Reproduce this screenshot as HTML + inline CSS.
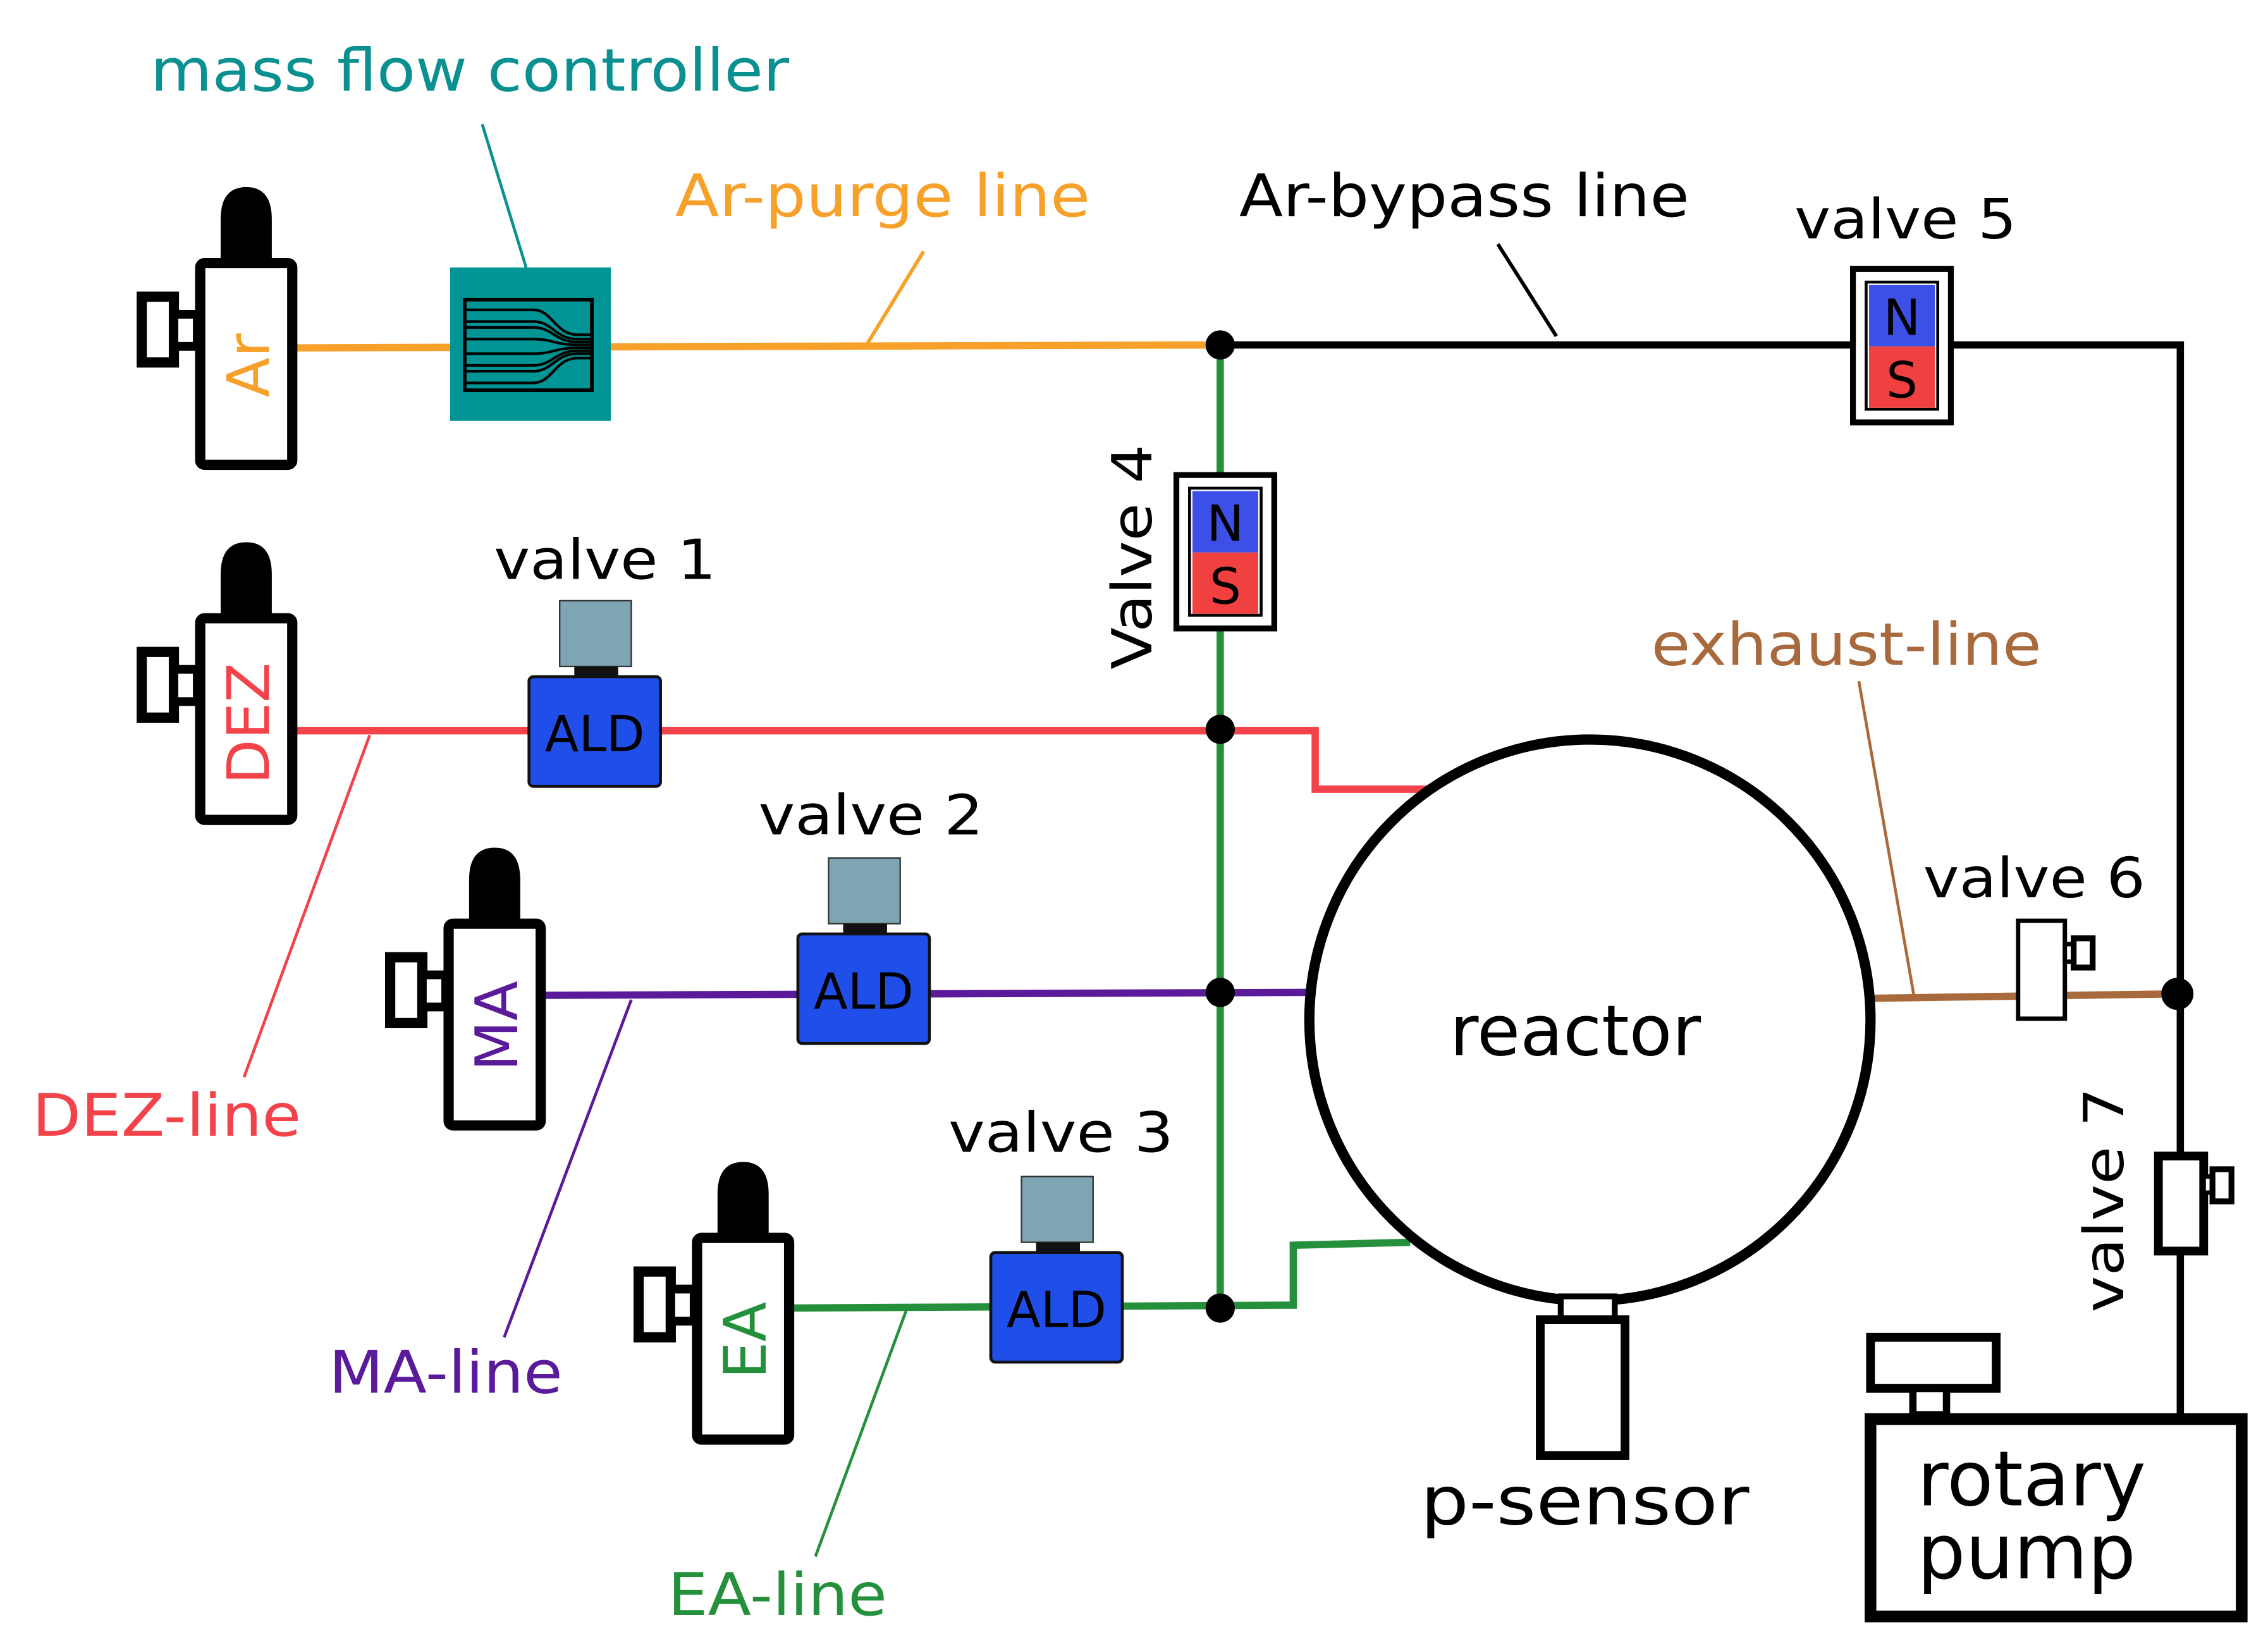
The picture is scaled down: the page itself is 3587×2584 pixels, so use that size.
<!DOCTYPE html>
<html><head><meta charset="utf-8"><style>html,body{margin:0;padding:0;background:#fff}svg{display:block}</style></head>
<body>
<svg xmlns="http://www.w3.org/2000/svg" width="3587" height="2584" viewBox="0 0 1552 1118" font-family="'DejaVu Sans','Liberation Sans',sans-serif">
<rect width="1552" height="1118" fill="#fff"/>
<defs>
<g id="cyl">
  <path d="M1,55 L1,22 Q1,0 18.5,0 Q36,0 36,22 L36,55 Z" fill="#000"/>
  <rect x="-13" y="52" width="63" height="138" rx="3" fill="#fff" stroke="#000" stroke-width="7"/>
  <rect x="-53" y="75" width="22" height="45" fill="#fff" stroke="#000" stroke-width="7"/>
  <rect x="-31" y="87" width="16" height="22" fill="#fff" stroke="#000" stroke-width="6"/>
</g>
<g id="ald">
  <rect x="21" y="0" width="49" height="45" fill="#7ea6b2" stroke="#333" stroke-width="1"/>
  <rect x="31" y="45" width="30" height="7" fill="#111"/>
  <rect x="0" y="52" width="90" height="75" rx="3" fill="#1f4fe8" stroke="#111" stroke-width="2"/>
  <text x="45" y="103" font-size="34" text-anchor="middle" fill="#000">ALD</text>
</g>
<g id="ns">
  <rect x="0" y="0" width="67" height="105" fill="#fff" stroke="#000" stroke-width="4"/>
  <rect x="9" y="9" width="49" height="87" fill="#fff" stroke="#000" stroke-width="2"/>
  <rect x="11" y="11" width="45" height="42" fill="#3c4fe6"/>
  <rect x="11" y="53" width="45" height="42" fill="#f04040"/>
  <text x="33.5" y="45" font-size="34" text-anchor="middle">N</text>
  <text x="33.5" y="88" font-size="34" text-anchor="middle">S</text>
</g>
</defs>

<line x1="202" y1="238" x2="835" y2="236" stroke="#f7a12a" stroke-width="5"/>
<polyline points="835,236 1492,236 1492,968" fill="none" stroke="#000" stroke-width="5"/>
<line x1="835" y1="236" x2="835" y2="895" stroke="#24903c" stroke-width="5"/>
<polyline points="202,500 835,500 900,500 900,540 978,540" fill="none" stroke="#f2424a" stroke-width="5"/>
<line x1="372" y1="681" x2="895" y2="679" stroke="#5a1a9a" stroke-width="5"/>
<polyline points="541,895 885,893 885,852 965,850" fill="none" stroke="#24903c" stroke-width="5"/>
<line x1="1282" y1="683" x2="1490" y2="680" stroke="#a86a3c" stroke-width="5"/>

<line x1="330" y1="85" x2="360" y2="183" stroke="#0a9090" stroke-width="2"/>
<line x1="632" y1="172" x2="593" y2="236" stroke="#f7a12a" stroke-width="2.5"/>
<line x1="1025" y1="167" x2="1065" y2="230" stroke="#000" stroke-width="2.5"/>
<line x1="167" y1="737" x2="253" y2="503" stroke="#f2424a" stroke-width="2"/>
<line x1="345" y1="915" x2="432" y2="684" stroke="#5a1a9a" stroke-width="2"/>
<line x1="558" y1="1065" x2="620" y2="897" stroke="#24903c" stroke-width="2"/>
<line x1="1272" y1="466" x2="1310" y2="683" stroke="#a86a3c" stroke-width="2"/>

<use href="#cyl" x="150" y="128"/>
<use href="#cyl" x="150" y="371"/>
<use href="#cyl" x="320" y="580"/>
<use href="#cyl" x="490" y="795"/>
<text transform="translate(184,250) rotate(-90)" font-size="40" fill="#f7a12a" text-anchor="middle">Ar</text>
<text transform="translate(184,495) rotate(-90)" font-size="40" fill="#f2424a" text-anchor="middle">DEZ</text>
<text transform="translate(354,702) rotate(-90)" font-size="40" fill="#5a1a9a" text-anchor="middle">MA</text>
<text transform="translate(524,917) rotate(-90)" font-size="40" fill="#24903c" text-anchor="middle">EA</text>

<rect x="308" y="183" width="110" height="105" fill="#009494"/>
<rect x="318" y="205" width="87" height="62" fill="none" stroke="#000" stroke-width="2.5"/>
<g fill="none" stroke="#000" stroke-width="1.8">
<path d="M319,212 H365 C378,212 380,229 395,229 H405"/>
<path d="M319,220 H365 C378,220 380,232 395,232 H405"/>
<path d="M319,224 H365 C378,224 380,234 395,234 H405"/>
<path d="M319,232 H365 C378,232 380,236 395,236 H405"/>
<path d="M319,242 H365 C378,242 380,238 395,238 H405"/>
<path d="M319,250 H365 C378,250 380,240 395,240 H405"/>
<path d="M319,254 H365 C378,254 380,242 395,242 H405"/>
<path d="M319,262 H365 C378,262 380,245 395,245 H405"/>
</g>

<use href="#ald" x="362" y="411"/>
<use href="#ald" x="546" y="587"/>
<use href="#ald" x="678" y="805"/>

<use href="#ns" x="1268" y="184"/>
<use href="#ns" x="805" y="325"/>

<circle cx="835" cy="236" r="10"/>
<circle cx="835" cy="499" r="10"/>
<circle cx="835" cy="679" r="10"/>
<circle cx="835" cy="895" r="10"/>
<circle cx="1490" cy="680" r="11"/>

<circle cx="1088" cy="698" r="192" fill="#fff" stroke="#000" stroke-width="7"/>
<text x="1078" y="722" font-size="48" text-anchor="middle">reactor</text>
<rect x="1068" y="887" width="37" height="16" fill="#fff" stroke="#000" stroke-width="4"/>
<rect x="1054" y="903" width="58" height="93" fill="#fff" stroke="#000" stroke-width="6"/>

<rect x="1381" y="630" width="32" height="67" fill="#fff" stroke="#000" stroke-width="3"/>
<rect x="1413" y="646" width="6" height="12" fill="#fff" stroke="#000" stroke-width="3"/>
<rect x="1419" y="642" width="13" height="20" fill="#fff" stroke="#000" stroke-width="4"/>
<rect x="1477" y="791" width="31" height="65" fill="#fff" stroke="#000" stroke-width="6"/>
<rect x="1508" y="805" width="6" height="11" fill="#fff" stroke="#000" stroke-width="3"/>
<rect x="1514" y="800" width="13" height="22" fill="#fff" stroke="#000" stroke-width="4"/>

<rect x="1280" y="915" width="86" height="35" fill="#fff" stroke="#000" stroke-width="6"/>
<rect x="1309" y="950" width="23" height="18" fill="#fff" stroke="#000" stroke-width="5"/>
<rect x="1280" y="971" width="254" height="135" fill="#fff" stroke="#000" stroke-width="8"/>
<text x="1312" y="1030" font-size="52">rotary</text>
<text x="1312" y="1080" font-size="52">pump</text>

<text x="103" y="62" font-size="40" fill="#0a9090" textLength="437" lengthAdjust="spacingAndGlyphs">mass flow controller</text>
<text x="462" y="148" font-size="40" fill="#f7a12a" textLength="284" lengthAdjust="spacingAndGlyphs">Ar-purge line</text>
<text x="848" y="148" font-size="40" fill="#000" textLength="308" lengthAdjust="spacingAndGlyphs">Ar-bypass line</text>
<text x="1228" y="163" font-size="38" textLength="152" lengthAdjust="spacingAndGlyphs">valve 5</text>
<text x="338" y="396" font-size="38" textLength="152" lengthAdjust="spacingAndGlyphs">valve 1</text>
<text x="519" y="571" font-size="38" textLength="154" lengthAdjust="spacingAndGlyphs">valve 2</text>
<text x="649" y="788" font-size="38" textLength="154" lengthAdjust="spacingAndGlyphs">valve 3</text>
<text x="1316" y="614" font-size="38" textLength="152" lengthAdjust="spacingAndGlyphs">valve 6</text>
<text transform="translate(788,458) rotate(-90)" font-size="38" textLength="154" lengthAdjust="spacingAndGlyphs">Valve 4</text>
<text transform="translate(1453,898) rotate(-90)" font-size="38" textLength="154" lengthAdjust="spacingAndGlyphs">valve 7</text>
<text x="1130" y="455" font-size="40" fill="#a86a3c" textLength="267" lengthAdjust="spacingAndGlyphs">exhaust-line</text>
<text x="22" y="777" font-size="40" fill="#f2424a" textLength="184" lengthAdjust="spacingAndGlyphs">DEZ-line</text>
<text x="225" y="953" font-size="40" fill="#5a1a9a" textLength="160" lengthAdjust="spacingAndGlyphs">MA-line</text>
<text x="457" y="1105" font-size="40" fill="#24903c" textLength="150" lengthAdjust="spacingAndGlyphs">EA-line</text>
<text x="972" y="1043" font-size="46" textLength="225" lengthAdjust="spacingAndGlyphs">p-sensor</text>
</svg>
</body></html>
